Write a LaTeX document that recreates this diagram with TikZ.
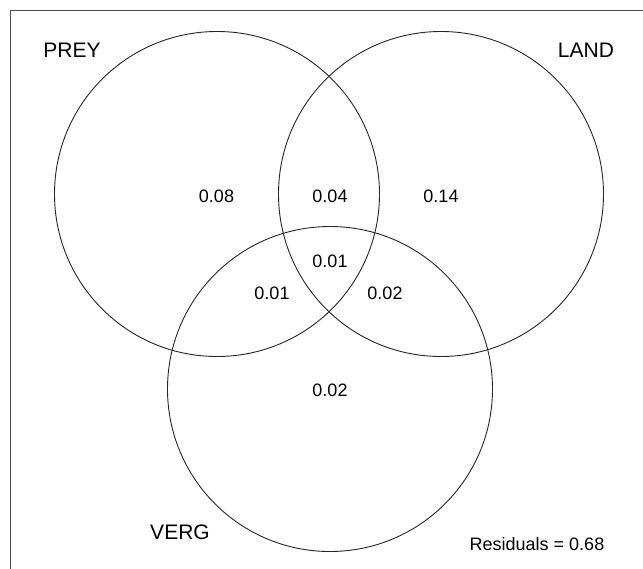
\documentclass[tikz,border=0pt]{standalone}
\usepackage{fontspec}
\setmainfont{Liberation Sans}
\begin{document}
\begin{tikzpicture}[x=1pt,y=-1pt,
        setname/.style={font=\fontsize{21}{24}\selectfont},
        share/.style={font=\fontsize{18}{21}\selectfont},
        venn/.style={black!85,line width=0.9pt}]
        \clip (0,0) rectangle (643,568);
        \fill[white] (0,0) rectangle (643,568);
        \draw[black!70,line width=1.6pt] (10.5,10.5) rectangle (700,620);
        % the three sets
        \draw[venn] (217,194) circle (162.5pt);
        \draw[venn] (441,194) circle (162.5pt);
        \draw[venn] (330,389) circle (162.5pt);
        \node[setname] (prey) at (72,50) {PREY};
        \node[setname] (land) at (586,50) {LAND};
        \node[setname] (verg) at (180,532) {VERG};
        % shares of each region
        \node[share] (preyonly) at (216.5,196) {0.08};
        \node[share] (preyland) at (330,196) {0.04};
        \node[share] (landonly) at (441,196) {0.14};
        \node[share] (allthree) at (330,261) {0.01};
        \node[share] (preyverg) at (272,293) {0.01};
        \node[share] (landverg) at (385,293) {0.02};
        \node[share] (vergonly) at (330,390) {0.02};
        \node[share] (resid) at (537,544) {Residuals = 0.68};
    \end{tikzpicture}
\end{document}
